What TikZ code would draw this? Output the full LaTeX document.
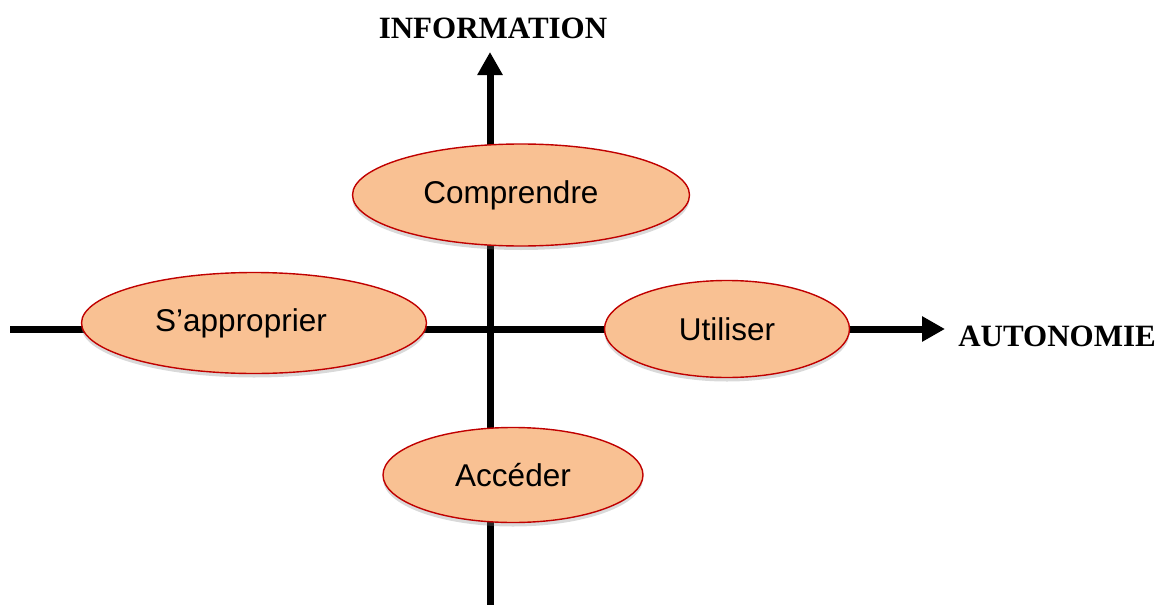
\documentclass[tikz,border=0pt]{standalone}
\usepackage{fontspec}
\setmainfont{Liberation Serif}
\newfontfamily\arialfont{Liberation Sans}
\usetikzlibrary{arrows.meta,shapes.geometric,shadows}
\definecolor{ellfill}{HTML}{F9C193}
\definecolor{ellline}{HTML}{C00000}
\tikzset{
  axisline/.style={line width=7pt, -{Triangle[length=23pt,width=24pt]}},
  ell/.style={ellipse, draw=ellline, line width=1.4pt, fill=ellfill, inner sep=0pt,
    font=\arialfont\fontsize{31.5}{36}\selectfont,
    drop shadow={opacity=0.3, shadow xshift=0pt, shadow yshift=-4pt, fill=black!50}},
  axlabel/.style={font=\bfseries\fontsize{31}{36}\selectfont, inner sep=0pt}
}
\begin{document}
\begin{tikzpicture}[x=1pt,y=-1pt]
\useasboundingbox (0,0) rectangle (1173,605);
\coordinate (hstart) at (10,329);
\coordinate (hend) at (945,329);
\coordinate (vstart) at (490,610);
\coordinate (vend) at (490,52);
\draw[axisline] (hstart) -- (hend);
\draw[axisline] (vstart) -- (vend);
\node[ell, minimum width=337pt, minimum height=102pt] (comp) at (521,195) {\hspace*{-20pt}Comprendre};
\node[ell, minimum width=345pt, minimum height=101pt] (appr) at (254,323) {\hspace*{-26pt}S’approprier};
\node[ell, minimum width=245pt, minimum height=97pt] (util) at (727,329) {Utiliser};
\node[ell, minimum width=260pt, minimum height=95pt] (acc) at (513,475) {Accéder};
\node[axlabel] (info) at (493,28) {INFORMATION};
\node[axlabel] (auto) at (1057,336) {AUTONOMIE};
\end{tikzpicture}
\end{document}
